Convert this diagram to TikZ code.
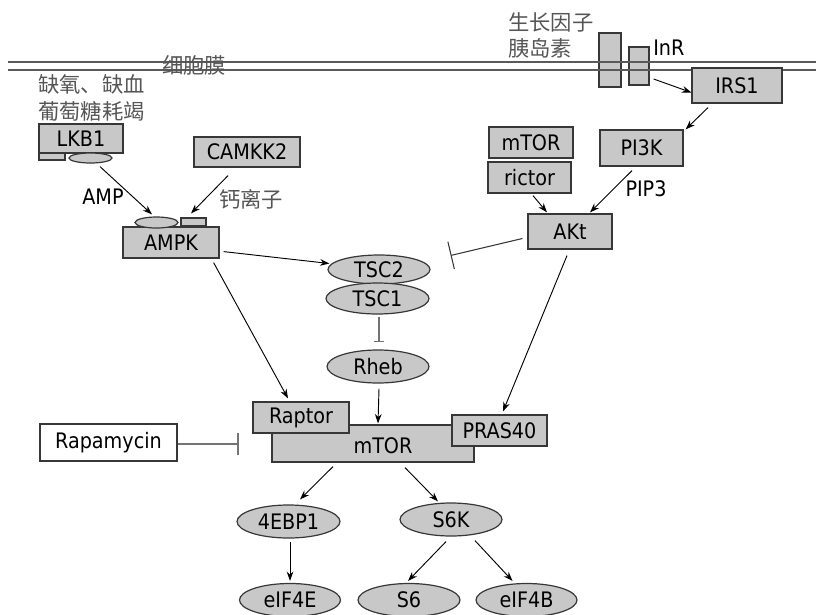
\documentclass[tikz,border=0pt]{standalone}
\usepackage{fontspec}
\setmainfont{DejaVu Sans Condensed}
\newfontfamily\cjk{Noto Sans CJK SC}
\usetikzlibrary{arrows.meta,calc,shapes.geometric}
\definecolor{boxfill}{RGB}{200,200,200}
\definecolor{edgec}{RGB}{55,55,55}
\definecolor{cjkgray}{RGB}{85,85,85}
\definecolor{memb}{RGB}{90,90,90}
\definecolor{inhgray}{RGB}{115,115,115}
\tikzset{
  sz/.style 2 args={minimum width=#1*0.75pt, minimum height=#2*0.75pt},
  lbl/.style={font=\fontsize{16}{19}\selectfont, inner sep=0pt},
  box/.style={draw=edgec, line width=0.9pt, fill=boxfill, inner sep=0pt, font=\fontsize{16}{19}\selectfont},
  wbox/.style={box, fill=white},
  oval/.style={box, ellipse},
  arr/.style={-{Stealth[length=7pt,width=5pt]}, line width=0.7pt, black},
  inh/.style={-{Bar[width=#1]}, line width=1.4pt, inhgray},
  cjklbl/.style={font=\cjk\fontsize{16}{19}\selectfont, text=cjkgray, inner sep=0pt}
}
\begin{document}
\begin{tikzpicture}[x=0.75pt,y=-0.75pt]
\useasboundingbox (0,0) rectangle (816,614);
% receptor InR
\node[box, sz={22}{54}] (inr1) at (610,60) {};
\node[box, sz={20}{38}] (inr2) at (639,66) {};
% membrane
\draw[memb, line width=1.1pt] (8,62) -- (816,62);
\draw[memb, line width=1.1pt] (8,70) -- (816,70);
\node[cjklbl, anchor=west] (membtext) at (162,65) {细胞膜};
% annotations
\node[cjklbl, anchor=west] (hyp1) at (38,84) {缺氧、缺血};
\node[cjklbl, anchor=west] (hyp2) at (38,111) {葡萄糖耗竭};
\node[cjklbl, anchor=west] (gf1) at (508,22) {生长因子};
\node[cjklbl, anchor=west] (gf2) at (508,48) {胰岛素};
\node[lbl, anchor=west] (inrlbl) at (653,48) {InR};
\node[lbl] (amplbl) at (103,197) {AMP};
\node[cjklbl] (calbl) at (251,199) {钙离子};
\node[lbl] (pip3lbl) at (646,189) {PIP3};
% LKB1
\node[box, sz={84}{29}] (lkb1) at (81,138.5) {LKB1};
\node[box, sz={26}{7}] (lkbr) at (52,156.5) {};
\node[oval, sz={43}{10}] (lkbe) at (90.5,158) {};
% CAMKK2
\node[box, sz={106}{30}] (camkk2) at (247,152) {CAMKK2};
% AMPK
\node[box, sz={96}{31}] (ampk) at (171,242.5) {AMPK};
\node[oval, sz={43}{11}] (ampke) at (156.5,222.5) {};
\node[box, sz={25}{8}] (ampkr) at (193.5,222) {};
% right branch
\node[box, sz={84}{31}] (mtorc) at (531,142.5) {mTOR};
\node[box, sz={83}{31}] (rictor) at (529.5,177.5) {rictor};
\node[box, sz={83}{36}] (pi3k) at (641.5,148) {PI3K};
\node[box, sz={90}{35}] (irs1) at (737,85.5) {IRS1};
\node[box, sz={84}{35}] (akt) at (570,231.5) {AKt};
% TSC
\node[oval, sz={102}{29}] (tsc2) at (379,269.5) {TSC2};
\node[oval, sz={103}{31}] (tsc1) at (377.5,298.5) {TSC1};
\node[oval, sz={102}{33}] (rheb) at (378,366.5) {Rheb};
% mTORC1
\node[box, sz={202}{37}] (mtor) at (373,443.5) {};
\node[lbl] (mtorlbl) at (383,446) {mTOR};
\node[box, sz={96}{31}] (raptor) at (301,417.5) {Raptor};
\node[box, sz={95}{31}] (pras40) at (499.5,430.5) {PRAS40};
\node[wbox, sz={137}{37}] (rapa) at (108.5,442.5) {Rapamycin};
% downstream
\node[oval, sz={103}{33}] (ebp1) at (288.5,521.5) {4EBP1};
\node[oval, sz={102}{33}] (s6k) at (451,519.5) {S6K};
\node[oval, sz={101}{33}] (eif4e) at (290,600) {eIF4E};
\node[oval, sz={102}{33}] (s6) at (409,600) {S6};
\node[oval, sz={101}{33}] (eif4b) at (526.5,600) {eIF4B};
% connectors
\draw[arr] ($(lkbe.south)+(9.5,3)$) -- ($(ampke.north)+(-4.5,-2)$);
\draw[arr] ($(camkk2.south)+(-19,8)$) -- ($(ampkr.north)+(-2.5,-4)$);
\draw[arr] ($(ampk.south east)+(4,-7)$) -- ($(tsc2.west)+(2,-6)$);
\draw[arr] ($(ampk.south east)+(-6,4)$) -- ($(raptor.north)+(-13,-3)$);
\draw[inh=8pt] ($(tsc1.south)+(1.5,2)$) -- ($(rheb.north)+(1,-7)$);
\draw[arr] ($(rheb.south)+(1,5)$) -- ($(mtor.north)+(5,-1)$);
\coordinate (aktinh) at ($(tsc2.east)+(20,-14)$);
\draw[-{Bar[width=21pt]}, line width=0.8pt, edgec] ($(akt.west)+(-5,7)$) -- (aktinh);
\draw[arr] ($(akt.south)+(-3,6)$) -- ($(pras40.north)+(3.5,-3)$);
\draw[arr] ($(rictor.south)+(3.5,2)$) -- ($(akt.north)+(-23,-1)$);
\draw[arr] ($(pi3k.south)+(-9.5,4)$) -- ($(akt.north)+(20,-1)$);
\draw[arr] ($(irs1.south)+(-29,4)$) -- ($(pi3k.north east)+(2,0)$);
\draw[arr] ($(inr2.east)+(4,13)$) -- ($(irs1.west)+(0,7)$);
\coordinate (rapainh) at ($(rapa.east)+(61,1.5)$);
\draw[inh=16pt] ($(rapa.east)+(0,1.5)$) -- (rapainh);
\draw[arr] ($(mtor.south)+(-40,4)$) -- ($(ebp1.north)+(11.5,-5)$);
\draw[arr] ($(mtor.south)+(32,5)$) -- ($(s6k.north)+(-13,-1)$);
\draw[arr] ($(ebp1.south)+(1.5,3)$) -- ($(eif4e.north)+(0,-2)$);
\draw[arr] ($(s6k.south)+(-5,5)$) -- ($(s6.north)+(-1,-2)$);
\draw[arr] ($(s6k.south)+(24,4)$) -- ($(eif4b.north)+(-14,-2)$);
\end{tikzpicture}
\end{document}
